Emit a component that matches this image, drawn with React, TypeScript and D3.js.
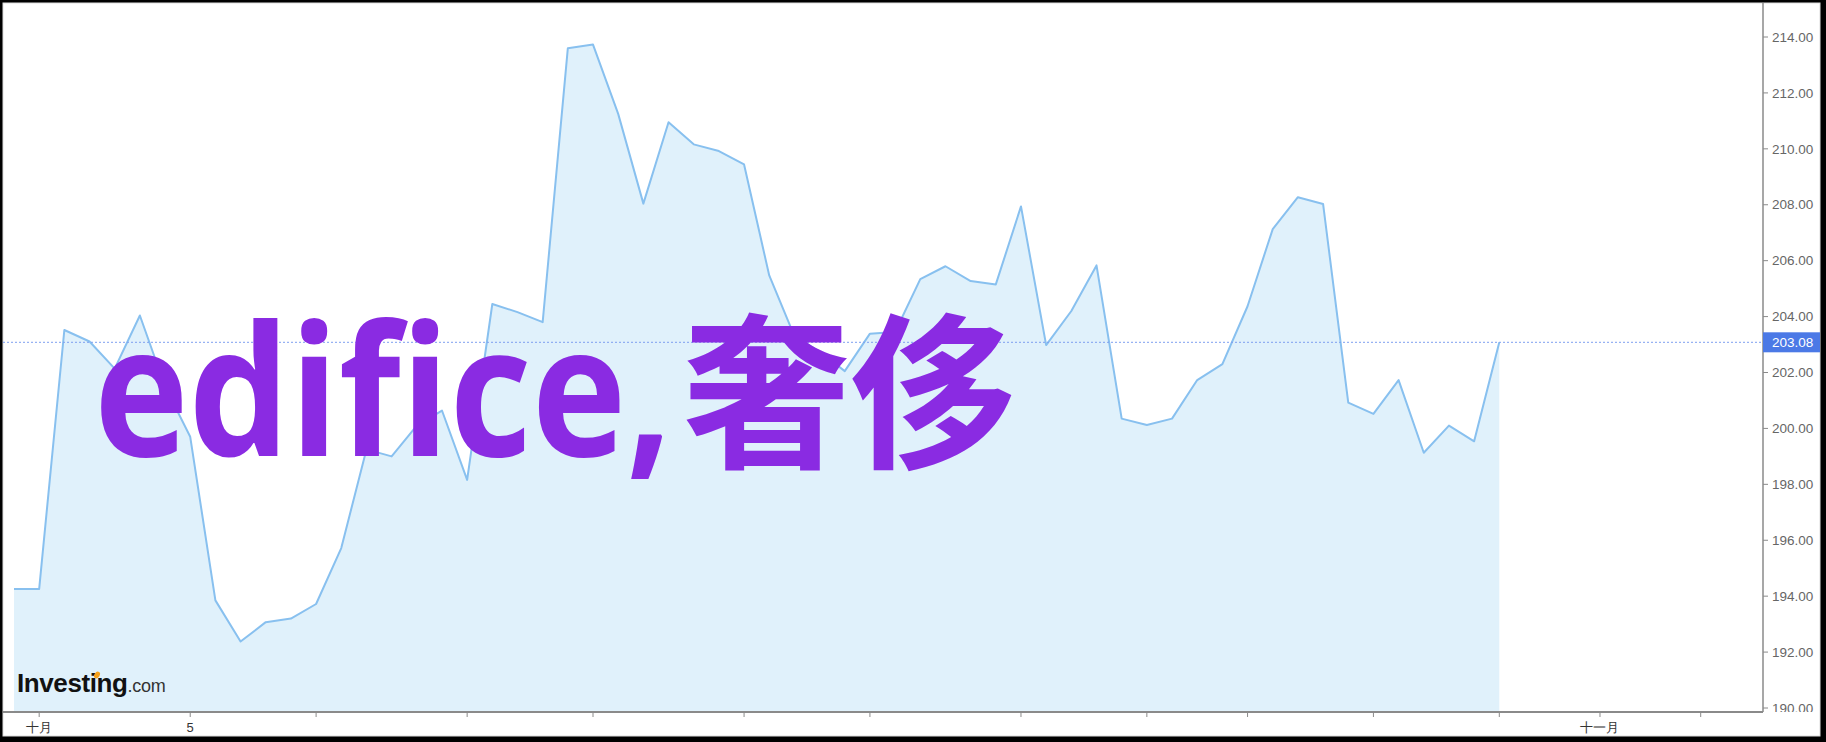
import * as d3 from "d3";
import { useLayoutEffect, useRef, useState } from "react";

const W = 1826;
const H = 742;

// price per bar
const prices = [
  194.26, 194.26, 203.52, 203.11, 202.14, 204.04, 201.5, 199.7, 193.85, 192.38,
  193.07, 193.2, 193.72, 195.72, 199.25, 199.0, 200.1, 200.64, 198.16, 204.45,
  204.16, 203.8, 213.6, 213.73, 211.25, 208.04, 210.95, 210.16, 209.92, 209.44,
  205.47, 203.3, 202.75, 202.05, 203.39, 203.45, 205.34, 205.8, 205.27, 205.15,
  207.94, 202.98, 204.2, 205.83, 200.35, 200.12, 200.35, 201.73, 202.3, 204.37,
  207.13, 208.27, 208.03, 200.92, 200.52, 201.73, 199.13, 200.1, 199.54, 203.08,
];

const lastPrice = 203.08;
const yTicks = [190, 192, 194, 196, 198, 200, 202, 204, 206, 208, 210, 212, 214];
const xTickIdx = [1, 7, 12, 18, 23, 29, 34, 40, 45, 49, 54, 59, 63, 67];
const xTickLabels: Record<number, string> = { 1: "十月", 7: "5", 63: "十一月" };

const left = 3;
const right = 1763;
const top = 3;
const bottom = 712;

export default function App() {
  const latinRef = useRef<SVGTextElement | null>(null);
  const [latinScale, setLatinScale] = useState(0.88);

  useLayoutEffect(() => {
    const el = latinRef.current;
    if (!el) return;
    const len = el.getComputedTextLength();
    if (len > 0) setLatinScale(578 / len);
  }, []);

  const x = d3.scaleLinear().domain([0, prices.length - 1]).range([14, 1499.3]);
  const y = d3.scaleLinear().domain([190, 214]).range([708, 37]);

  const area = d3
    .area<number>()
    .x((_, i) => x(i))
    .y0(bottom - 1)
    .y1((d) => y(d));
  const line = d3
    .line<number>()
    .x((_, i) => x(i))
    .y((d) => y(d));

  const fmt = d3.format(".2f");
  const axisFont = "'Liberation Sans', Arial, sans-serif";

  return (
    <div style={{ position: "fixed", left: 0, top: 0 }}>
      <svg width={W} height={H} style={{ display: "block" }}>
        <defs>
          <clipPath id="yLabelClip">
            <rect x={right} y={0} width={W - right} height={bottom} />
          </clipPath>
        </defs>
        {/* frame */}
        <rect x={0} y={0} width={W} height={H} fill="#000" />
        <rect x={3} y={3} width={1817} height={733} fill="#fff" stroke="#ddd" strokeWidth={1} />

        {/* series */}
        <path d={area(prices) ?? ""} fill="#e0f1fb" />
        <path d={line(prices) ?? ""} fill="none" stroke="#88c0ef" strokeWidth={2} strokeLinejoin="round" />

        {/* last price line */}
        <line
          x1={left}
          x2={right}
          y1={y(lastPrice)}
          y2={y(lastPrice)}
          stroke="#7d9ff0"
          strokeWidth={1}
          strokeDasharray="2,2"
        />

        {/* y axis */}
        <line x1={right} x2={right} y1={top} y2={bottom} stroke="#8a8a8a" strokeWidth={1.5} />
        <g clipPath="url(#yLabelClip)">
          {yTicks.map((t) => (
            <g key={t} transform={`translate(0,${y(t)})`}>
              <line x1={right} x2={right + 5} stroke="#8a8a8a" strokeWidth={1} />
              <text
                x={right + 9}
                dy="0.35em"
                fontFamily={axisFont}
                fontSize={13.5}
                fill="#666"
              >
                {fmt(t)}
              </text>
            </g>
          ))}
        </g>
        <rect x={right} y={y(lastPrice) - 10} width={57} height={20} fill="#4b79e6" />
        <text
          x={right + 9}
          y={y(lastPrice)}
          dy="0.35em"
          fontFamily={axisFont}
          fontSize={13.5}
          fill="#fff"
        >
          {fmt(lastPrice)}
        </text>

        {/* x axis */}
        <line x1={left} x2={right} y1={bottom} y2={bottom} stroke="#8a8a8a" strokeWidth={2} />
        {xTickIdx.map((i) => (
          <g key={i} transform={`translate(${x(i)},${bottom})`}>
            <line y1={0} y2={5} stroke="#8a8a8a" strokeWidth={1} />
            {xTickLabels[i] && (
              <text
                y={20}
                textAnchor="middle"
                fontFamily={axisFont}
                fontSize={13}
                fill="#333"
              >
                {xTickLabels[i]}
              </text>
            )}
          </g>
        ))}

        {/* logo */}
        <text
          x={17}
          y={692}
          fontFamily={axisFont}
          fontWeight="bold"
          fontSize={26}
          letterSpacing={-0.4}
          fill="#111"
        >
          Investing
          <tspan fontWeight="normal" fontSize={18} letterSpacing={-0.3} fill="#333">
            .com
          </tspan>
        </text>
        <ellipse cx={97} cy={675} rx={2.6} ry={3.6} transform="rotate(35 97 675)" fill="#f5a01a" />

        {/* watermark */}
        <g transform={`translate(94,456) scale(${latinScale},1)`}>
          <text
            ref={latinRef}
            fontFamily="'Open Sans', 'Noto Sans', sans-serif"
            fontWeight="bold"
            fontSize={182}
            fill="#8a2be2"
          >
            edifice,
          </text>
        </g>
        <text
          x={683}
          y={455}
          fontFamily="'Noto Sans CJK SC', sans-serif"
          fontWeight="bold"
          fontSize={167}
          fill="#8a2be2"
        >
          奢侈
        </text>
      </svg>
    </div>
  );
}
